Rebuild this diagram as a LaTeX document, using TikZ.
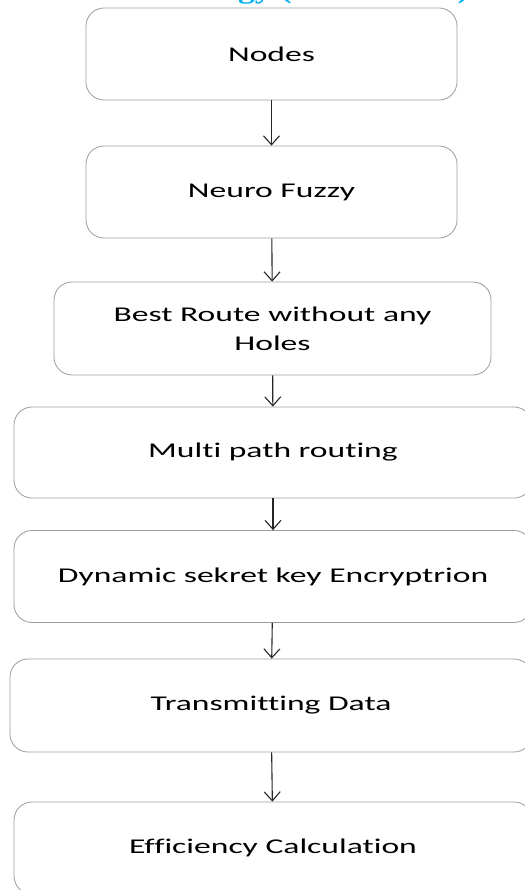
\documentclass[tikz,border=0pt]{standalone}
\usepackage{fontspec}
\setmainfont{Carlito}[FakeStretch=1.6, Ligatures=NoCommon]
\newfontfamily\headfont{Liberation Serif}[FakeStretch=1.3]
\usetikzlibrary{arrows.meta}
\definecolor{headblue}{RGB}{0,176,240}
\definecolor{boxgray}{RGB}{155,155,155}

\begin{document}
\begin{tikzpicture}[x=1pt,y=-1pt,
    blok/.style={draw=boxgray, line width=0.8pt, rounded corners=18pt,
        align=center, inner sep=0pt, font=\fontsize{21}{29}\selectfont},
    strzalka/.style={-{Straight Barb[length=9pt,width=16pt]}, line width=1.1pt, black!85}]
    % Parameters
    \def\h{92}    % box height
    \def\wide{518} % width of the lower boxes

    % Page
    \useasboundingbox (0,0) rectangle (524,890);

    % Title (cut off by the top of the page)
    \node[anchor=base west, inner sep=0pt, text=headblue,
        font=\headfont\bfseries\fontsize{26}{30}\selectfont] (title) at (82,-1.5)
        {Methodology (Flow Chart)};

    % Steps
    \node[blok, minimum width=371pt, minimum height=\h pt] (nodes) at (271.5,54) {Nodes};
    \node[blok, minimum width=371pt, minimum height=\h pt] (fuzzy) at (271.5,192) {Neuro Fuzzy};
    \node[blok, minimum width=437pt, minimum height=93pt] (route) at (272.5,328.5)
        {Best Route without any\\Holes};
    \node[blok, minimum width=\wide pt, minimum height=91pt] (multipath) at (273,452.5)
        {Multi path routing};
    \node[blok, minimum width=\wide pt, minimum height=\h pt] (encrypt) at (273,576.5)
        {Dynamic sekret key Encryptrion};
    \node[blok, minimum width=522pt, minimum height=93pt] (transmit) at (271,705.5)
        {Transmitting Data};
    \node[blok, minimum width=\wide pt, minimum height=\h pt] (efficiency) at (273,848)
        {Efficiency Calculation};

    % Arrows
    \draw[strzalka] (nodes) -- (fuzzy);
    \draw[strzalka] (fuzzy) -- (route);
    \draw[strzalka] (route) -- (multipath);
    \draw[strzalka] (multipath) -- (encrypt);
    \draw[strzalka] (encrypt) -- (transmit);
    \draw[strzalka] (transmit) -- (efficiency);
\end{tikzpicture}
\end{document}
